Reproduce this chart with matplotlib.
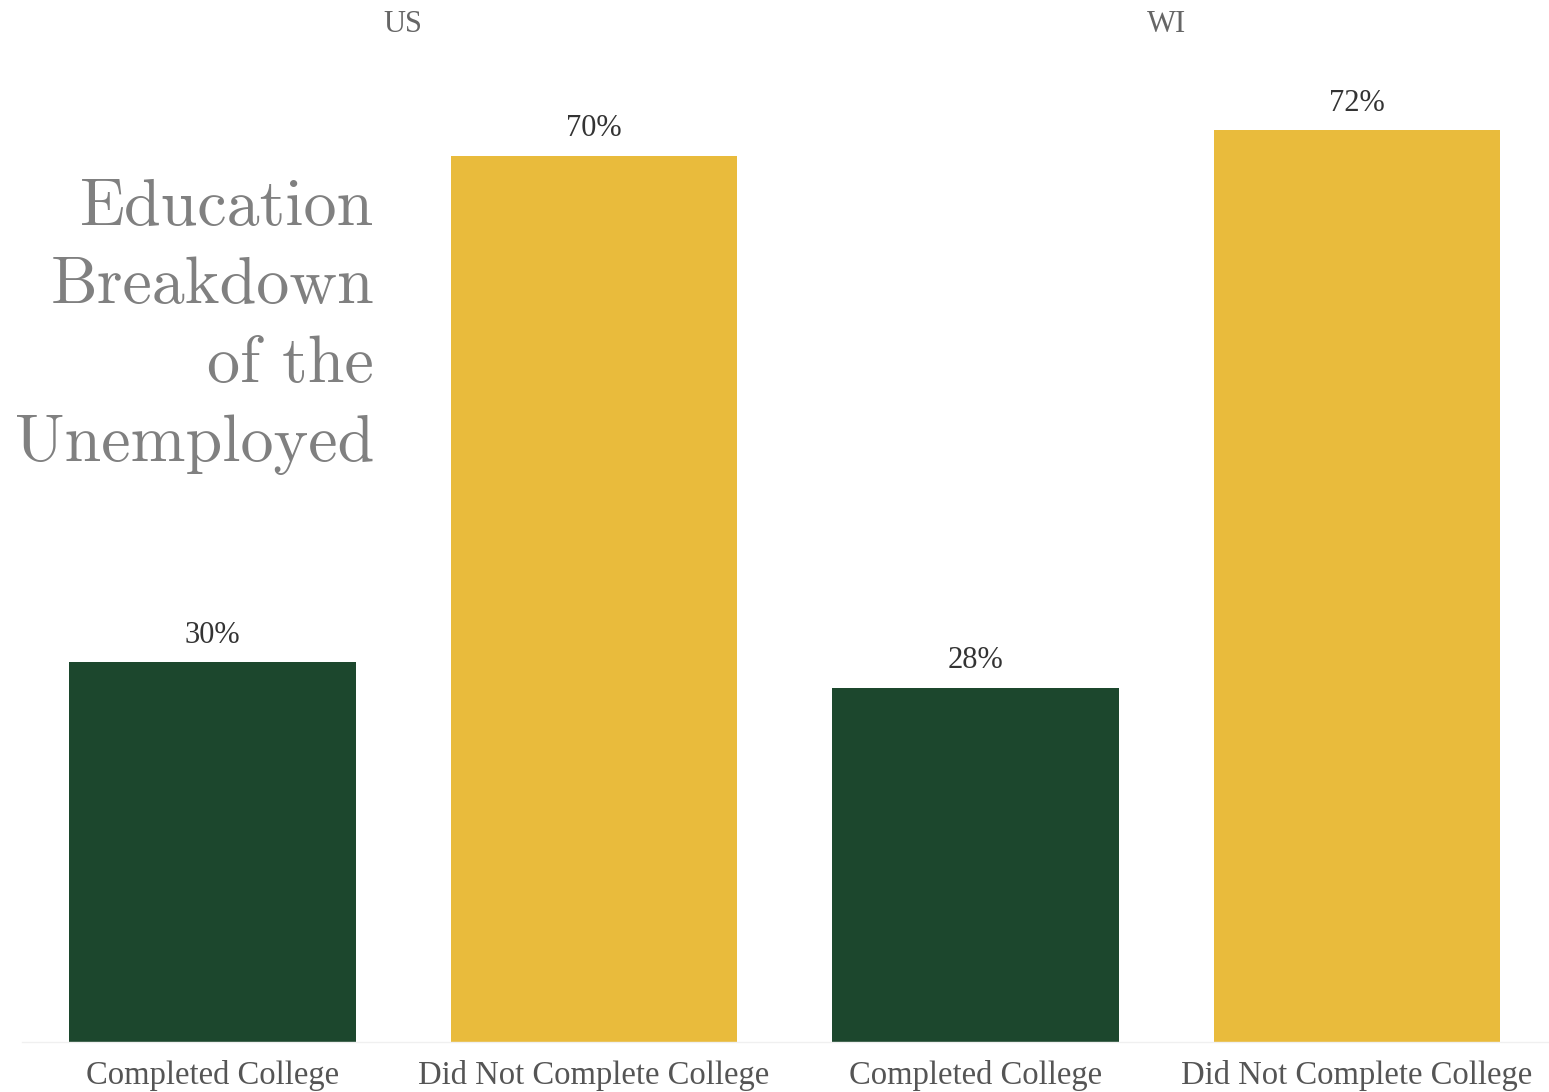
import matplotlib
matplotlib.use("Agg")
import matplotlib.pyplot as plt

regions = ["US", "US", "WI", "WI"]
categories = ["Completed College", "Did Not Complete College",
              "Completed College", "Did Not Complete College"]
values = [30, 70, 28, 72]
facet_labels = ["US", "WI"]
colors = ["#1c472d", "#e9bb3c", "#1c472d", "#e9bb3c"]

W, H = 1549, 1092
fig = plt.figure(figsize=(W / 100, H / 100), dpi=100)
left_px, right_px = 21.75, 1547.75
bottom_px = 1042
top_px = bottom_px - 80 * 12.66
ax = fig.add_axes([left_px / W, 1 - bottom_px / H,
                   (right_px - left_px) / W, (bottom_px - top_px) / H])

x = list(range(len(values)))
bars = ax.bar(x, values, width=0.752, color=colors)
ax.set_xlim(-0.5, len(values) - 0.5)
ax.set_ylim(0, 80)

serif = ["Liberation Serif", "DejaVu Serif"]
for xi, v in zip(x, values):
    ax.annotate(f"{v}%", (xi, v), xytext=(0, 9), textcoords="offset points",
                ha="center", va="bottom", fontsize=22, color="#333333",
                family=serif)

ax.set_xticks(x)
ax.set_xticklabels(categories, fontsize=23.5, color="#555555", family=serif)
ax.tick_params(axis="x", length=0, pad=13)
ax.set_yticks([])
for s in ["top", "right", "left"]:
    ax.spines[s].set_visible(False)
ax.spines["bottom"].set_color("#f0f0f0")
ax.spines["bottom"].set_linewidth(1)

# facet labels centered above each pair
for i, lab in enumerate(facet_labels):
    cx = (x[2 * i] + x[2 * i + 1]) / 2
    xd = ax.transData.transform((cx, 0))[0] / W
    fig.text(xd, 1 - 24 / H, lab, ha="center", va="center", fontsize=22,
             color="#666666", family=serif)

fig.text(374 / W, 1 - 178 / H,
         "Education\nBreakdown\nof the\nUnemployed",
         ha="right", va="top", fontsize=47.5, color="#808080",
         family="cmr10", linespacing=1.41)

fig.savefig("out.png", dpi=100, facecolor="white")
